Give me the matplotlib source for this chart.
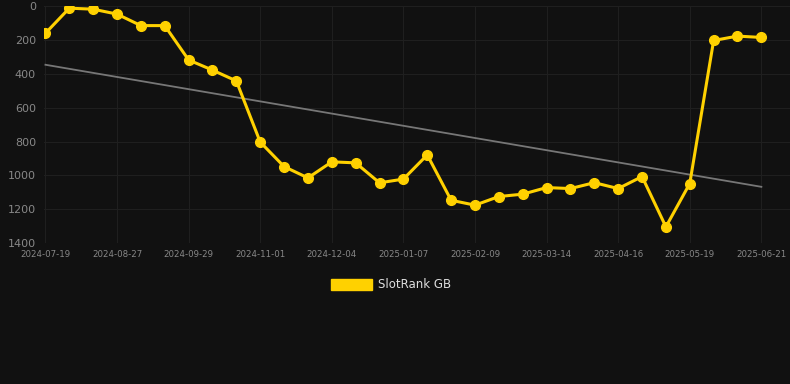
import numpy as np
import matplotlib
matplotlib.use("Agg")
import matplotlib.pyplot as plt
from matplotlib.patches import Patch

# rank per snapshot (lower is better, axis inverted)
ranks = [160, 12, 18, 47, 115, 115, 318, 378, 442, 803,
         948, 1015, 920, 926, 1044, 1022, 879, 1147, 1176, 1125,
         1111, 1072, 1078, 1043, 1078, 1007, 1304, 1048, 203, 177, 185]
tick_labels = ["2024-07-19", "2024-08-27", "2024-09-29", "2024-11-01",
               "2024-12-04", "2025-01-07", "2025-02-09", "2025-03-14",
               "2025-04-16", "2025-05-19", "2025-06-21"]

x = np.arange(len(ranks))
coeff = np.polyfit(x, ranks, 1)
trend = np.poly1d(coeff)

bg = "#111111"
fig = plt.figure(figsize=(7.9, 3.84), dpi=100, facecolor=bg)
ax = fig.add_axes([0.056, 0.367, 0.944, 0.617], facecolor=bg)

ax.plot(x, trend(x), color="#777777", lw=1.3, zorder=2)
ax.plot(x, ranks, color="#FFD100", lw=2.2, marker="o", ms=7, zorder=3)

ax.set_ylim(1400, 0)
ax.set_xlim(-0.05, 31.2)
ax.set_yticks(range(0, 1401, 200))
ax.set_xticks(x[::3])
ax.set_xticklabels(tick_labels)
ax.grid(True, color="#1f1f1f", lw=0.8)
ax.set_axisbelow(True)
for s in ax.spines.values():
    s.set_visible(False)
ax.tick_params(axis="y", colors="#888888", labelsize=8, length=0, pad=6)
ax.tick_params(axis="x", colors="#888888", labelsize=6.2, length=0, pad=5)

handle = Patch(facecolor="#FFD100", edgecolor="#FFD100")
fig.legend([handle], ["SlotRank GB"], loc="center", bbox_to_anchor=(0.495, 0.258),
           frameon=False, labelcolor="#dddddd", fontsize=8.5,
           handlelength=3.4, handleheight=1.1, handletextpad=0.5)

fig.savefig("out.png", dpi=100, facecolor=bg)
